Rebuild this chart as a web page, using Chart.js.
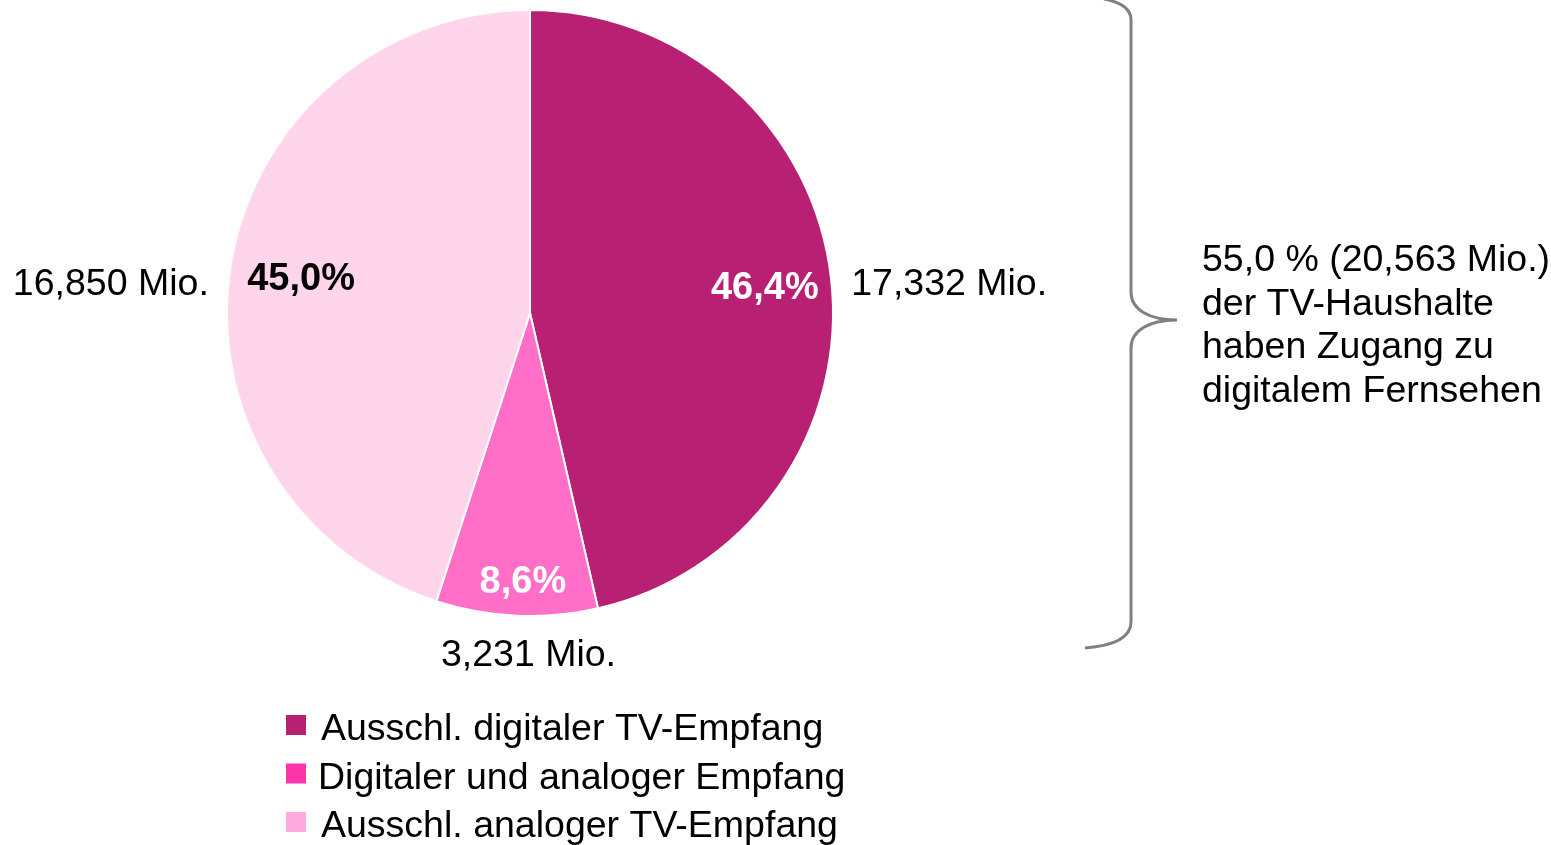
<!DOCTYPE html>
<html><head><meta charset="utf-8">
<script src="https://cdn.jsdelivr.net/npm/chart.js@4"></script>
<style>html,body{margin:0;padding:0;background:#fff;}canvas{display:block;}</style>
</head><body>
<canvas id="c" width="1551" height="845"></canvas>
<script>
// ---- data ----
const categories = ['Ausschl. digitaler TV-Empfang', 'Digitaler und analoger Empfang', 'Ausschl. analoger TV-Empfang'];
const shares = [46.4, 8.6, 45.0];
const shareLabels = ['46,4%', '8,6%', '45,0%'];
const valueLabels = ['17,332 Mio.', '3,231 Mio.', '16,850 Mio.'];
const annotationLines = ['55,0 % (20,563 Mio.)', 'der TV-Haushalte', 'haben Zugang zu', 'digitalem Fernsehen'];

// ---- styles ----
const sliceColors = ['#B82074', '#FF6EC7', '#FFD5EC'];
const legendColors = ['#B82074', '#FF33AA', '#FFAADD'];
const shareTextColors = ['#FFFFFF', '#FFFFFF', '#000000'];
const FONT = '"Liberation Sans", Arial, sans-serif';

const labelPlugin = {
  id: 'labels',
  afterDatasetsDraw(chart, args, opts) {
    const ctx = chart.ctx;
    const meta = chart.getDatasetMeta(0);
    ctx.save();
    meta.data.forEach((arc, i) => {
      const p = arc.getProps(['x', 'y', 'startAngle', 'endAngle', 'outerRadius'], true);
      const mid = (p.startAngle + p.endAngle) / 2;
      const R = p.outerRadius;
      const ins = opts.inside[i];
      const a = mid + ins.da * Math.PI / 180;
      const ix = p.x + Math.cos(a) * R * ins.r;
      const iy = p.y + Math.sin(a) * R * ins.r;
      ctx.font = 'bold 38px ' + FONT;
      ctx.fillStyle = shareTextColors[i];
      ctx.textAlign = 'center';
      ctx.textBaseline = 'alphabetic';
      ctx.fillText(shareLabels[i], ix, iy + 13);
      const out = opts.outside[i];
      ctx.font = '37.5px ' + FONT;
      ctx.fillStyle = '#000';
      ctx.textAlign = out.align;
      ctx.fillText(valueLabels[i], p.x + out.dx * R, p.y + out.dy * R);
    });
    ctx.restore();
  }
};

const extrasPlugin = {
  id: 'extras',
  afterDraw(chart) {
    const ctx = chart.ctx;
    ctx.save();
    ctx.strokeStyle = '#808080';
    ctx.lineWidth = 3;
    ctx.beginPath();
    ctx.moveTo(1104, -1);
    ctx.bezierCurveTo(1120, 2, 1131, 8, 1131, 20);
    ctx.lineTo(1131, 292);
    ctx.bezierCurveTo(1131, 310, 1150, 320, 1177, 320);
    ctx.bezierCurveTo(1150, 320, 1131, 330, 1131, 348);
    ctx.lineTo(1131, 622);
    ctx.bezierCurveTo(1131, 640, 1110, 646, 1085, 648);
    ctx.stroke();
    ctx.font = '37.5px ' + FONT;
    ctx.fillStyle = '#000';
    ctx.textAlign = 'left';
    ctx.textBaseline = 'alphabetic';
    annotationLines.forEach((t, i) => ctx.fillText(t, 1202, 271 + i * 43.7));
    categories.forEach((c, i) => {
      const base = 740 + i * 48.5;
      ctx.fillStyle = legendColors[i];
      ctx.fillRect(286, base - 25, 20, 20);
      ctx.fillStyle = '#000';
      ctx.fillText(c, i === 1 ? 318 : 321, base);
    });
    ctx.restore();
  }
};

new Chart(document.getElementById('c'), {
  type: 'pie',
  data: {
    labels: categories,
    datasets: [{
      data: shares,
      backgroundColor: sliceColors,
      borderColor: '#FFFFFF',
      borderWidth: 2,
      hoverOffset: 0
    }]
  },
  options: {
    responsive: false,
    animation: false,
    events: [],
    layout: { padding: { left: 226, top: 9, right: 717, bottom: 228 } },
    plugins: {
      legend: { display: false },
      tooltip: { enabled: false },
      labels: {
        inside: [{ r: 0.78, da: 0 }, { r: 0.88, da: -1 }, { r: 0.765, da: 0 }],
        outside: [
          { dx: 1.06, dy: -0.06, align: 'left' },
          { dx: -0.005, dy: 1.165, align: 'center' },
          { dx: -1.06, dy: -0.06, align: 'right' }
        ]
      }
    }
  },
  plugins: [labelPlugin, extrasPlugin]
});
</script>
</body></html>
